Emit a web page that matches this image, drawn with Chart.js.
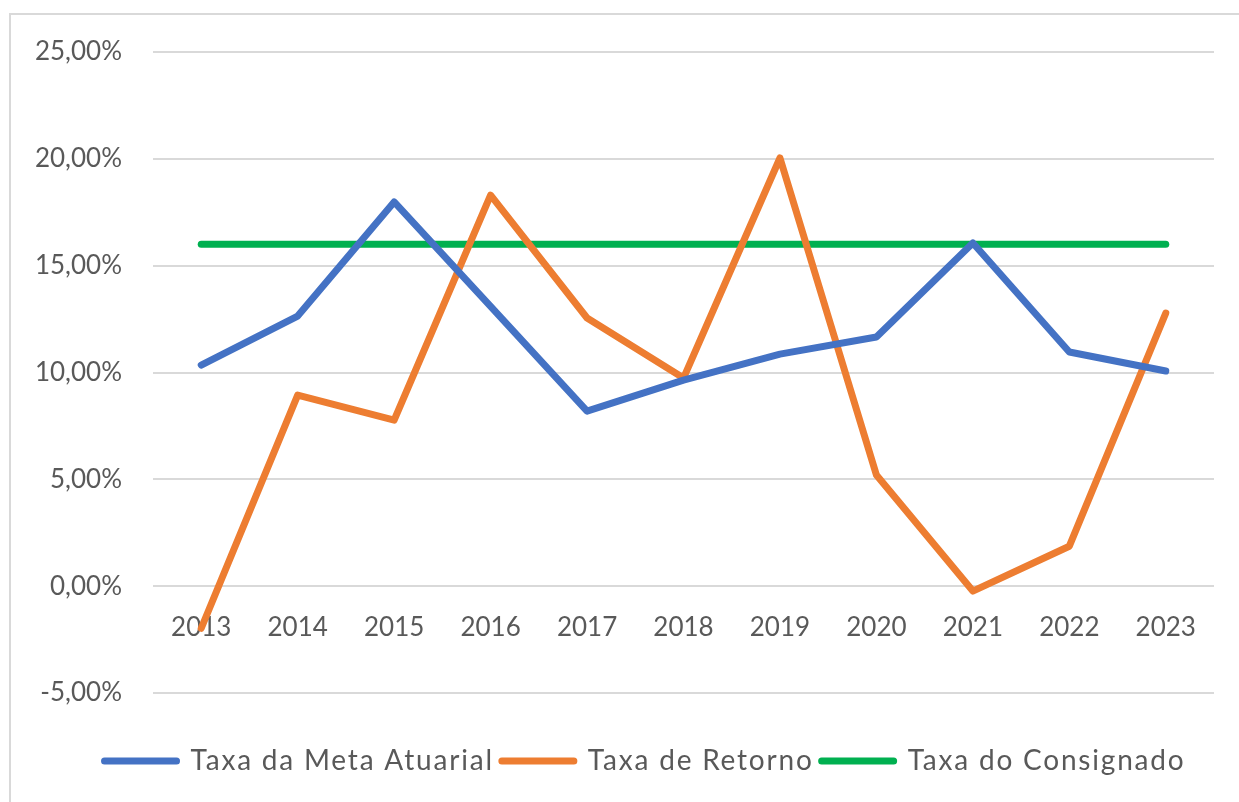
<!DOCTYPE html>
<html lang="pt">

<head>
    <meta charset="UTF-8">
    <title>Taxas 2013-2023</title>
    <script src="https://cdn.jsdelivr.net/npm/chart.js"></script>
    <style>
        html, body { margin: 0; padding: 0; background: #fff; }
        #wrap { width: 1239px; height: 802px; position: relative; }
    </style>
</head>

<body>
    <div id="wrap"><canvas id="grafico"></canvas></div>

    <script>
        const anos = ['2013', '2014', '2015', '2016', '2017', '2018', '2019', '2020', '2021', '2022', '2023'];
        const metaAtuarial = [10.35, 12.64, 17.98, 13.1, 8.19, 9.64, 10.86, 11.66, 16.06, 10.96, 10.07];
        const taxaRetorno = [-1.97, 8.94, 7.77, 18.3, 12.55, 9.74, 20.04, 5.2, -0.23, 1.87, 12.78];
        const taxaConsignado = [16, 16, 16, 16, 16, 16, 16, 16, 16, 16, 16];

        const cinza = '#595959';
        const fonte = 'Lato, "Open Sans", sans-serif';

        // moldura cinza em volta do gráfico (estilo Excel)
        const moldura = {
            id: 'moldura',
            beforeDraw(chart) {
                const ctx = chart.ctx;
                ctx.save();
                ctx.strokeStyle = '#d9d9d9';
                ctx.lineWidth = 2;
                ctx.strokeRect(10, 14, 1260, 820);
                ctx.restore();
            }
        };

        // legenda do Excel tem as letras espaçadas e fica centrada no gráfico todo
        const espacoLegenda = {
            id: 'espacoLegenda',
            afterInit(chart) {
                const lg = chart.legend;
                const fit = lg.fit, draw = lg.draw;
                lg.fit = function () {
                    chart.ctx.letterSpacing = '1.8px';
                    fit.apply(this, arguments);
                    chart.ctx.letterSpacing = '0px';
                };
                lg.draw = function () {
                    const ctx = chart.ctx;
                    ctx.save();
                    ctx.translate(38, 0);
                    ctx.letterSpacing = '1.8px';
                    draw.apply(this, arguments);
                    ctx.letterSpacing = '0px';
                    ctx.restore();
                };
            }
        };

        function serie(label, data, cor) {
            return {
                label: label,
                data: data,
                borderColor: cor,
                backgroundColor: cor,
                borderWidth: 7,
                pointRadius: 0,
                pointHoverRadius: 0,
                borderCapStyle: 'round',
                borderJoinStyle: 'round',
                tension: 0
            };
        }

        new Chart(document.getElementById('grafico'), {
            type: 'line',
            data: {
                labels: anos,
                datasets: [
                    serie('Taxa da Meta Atuarial', metaAtuarial, '#4472C4'),
                    serie('Taxa de Retorno', taxaRetorno, '#ED7D31'),
                    serie('Taxa do Consignado', taxaConsignado, '#00B050')
                ]
            },
            options: {
                responsive: true,
                maintainAspectRatio: false,
                animation: false,
                layout: { padding: { top: 52, right: 25, bottom: 17, left: 0 } },
                plugins: {
                    tooltip: { enabled: false },
                    legend: {
                        position: 'bottom',
                        title: { display: true, text: '', font: { size: 1, lineHeight: 1 }, padding: { top: 45, bottom: 0 } },
                        labels: {
                            color: cinza,
                            font: { family: fonte, size: 28 },
                            usePointStyle: true,
                            pointStyleWidth: 72,
                            padding: 8,
                            generateLabels(chart) {
                                return chart.data.datasets.map((ds, i) => ({
                                    text: ds.label,
                                    pointStyle: 'line',
                                    fillStyle: ds.borderColor,
                                    strokeStyle: ds.borderColor,
                                    lineWidth: 7,
                                    lineCap: 'round',
                                    fontColor: cinza,
                                    datasetIndex: i
                                }));
                            }
                        }
                    }
                },
                scales: {
                    x: {
                        position: { y: 0 },
                        offset: true,
                        grid: { display: false },
                        border: { display: false },
                        ticks: {
                            color: cinza,
                            font: { family: fonte, size: 26 },
                            padding: 18,
                            maxRotation: 0
                        }
                    },
                    y: {
                        min: -5,
                        max: 25,
                        afterFit(scale) { scale.width = 153; },
                        grid: { color: '#d9d9d9', lineWidth: 2, drawTicks: false },
                        border: { display: false },
                        ticks: {
                            stepSize: 5,
                            color: cinza,
                            font: { family: fonte, size: 26 },
                            padding: 31,
                            callback: v => v.toFixed(2).replace('.', ',') + '%'
                        }
                    }
                }
            },
            plugins: [moldura, espacoLegenda]
        });
    </script>
</body>

</html>
